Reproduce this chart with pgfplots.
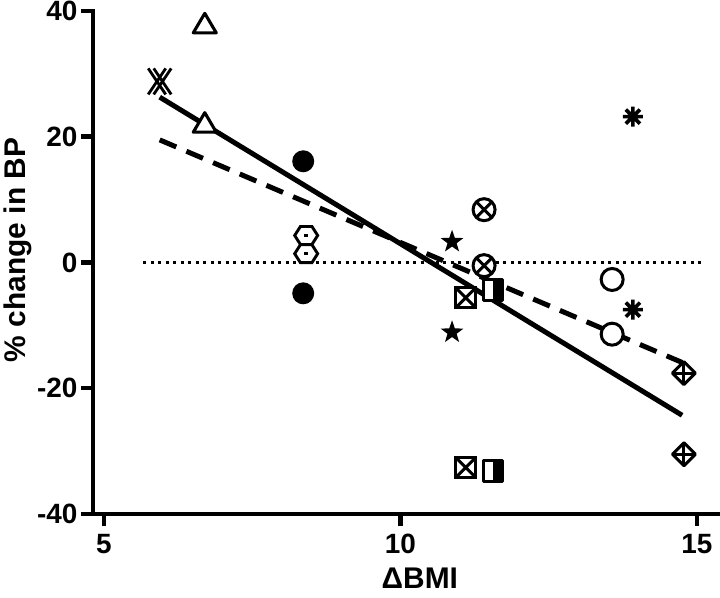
\documentclass[border=0pt]{standalone}
\usepackage{fontspec}
\setmainfont{Liberation Sans}
\usepackage{pgfplots}
\pgfplotsset{compat=1.18}
\usetikzlibrary{plotmarks}

\pgfdeclareplotmark{dblx}{%
 \pgfsetlinewidth{2.8bp}\pgfsetstrokecolor{black}%
 \pgfpathmoveto{\pgfpoint{-11.5bp}{-13bp}}\pgfpathlineto{\pgfpoint{6bp}{13bp}}%
 \pgfpathmoveto{\pgfpoint{-11.5bp}{13bp}}\pgfpathlineto{\pgfpoint{6bp}{-13bp}}%
 \pgfpathmoveto{\pgfpoint{-6bp}{-13bp}}\pgfpathlineto{\pgfpoint{11.5bp}{13bp}}%
 \pgfpathmoveto{\pgfpoint{-6bp}{13bp}}\pgfpathlineto{\pgfpoint{11.5bp}{-13bp}}%
 \pgfusepathqstroke}
\pgfdeclareplotmark{otri}{%
 \pgfsetlinewidth{3.1bp}\pgfsetstrokecolor{black}\pgfsetfillcolor{white}\pgfsetroundjoin
 \pgfpathmoveto{\pgfpoint{0bp}{11.5bp}}\pgfpathlineto{\pgfpoint{-11.5bp}{-8bp}}%
 \pgfpathlineto{\pgfpoint{11.5bp}{-8bp}}\pgfpathclose
 \pgfusepathqfillstroke}
\pgfdeclareplotmark{fcirc}{%
 \pgfsetfillcolor{black}%
 \pgfpathcircle{\pgfpointorigin}{11bp}\pgfusepathqfill}
\pgfdeclareplotmark{hexdot}{%
 \pgfsetlinewidth{2.9bp}\pgfsetstrokecolor{black}\pgfsetfillcolor{white}%
 \pgfpathmoveto{\pgfpoint{11.5bp}{0bp}}\pgfpathlineto{\pgfpoint{5.75bp}{9bp}}%
 \pgfpathlineto{\pgfpoint{-5.75bp}{9bp}}\pgfpathlineto{\pgfpoint{-11.5bp}{0bp}}%
 \pgfpathlineto{\pgfpoint{-5.75bp}{-9bp}}\pgfpathlineto{\pgfpoint{5.75bp}{-9bp}}\pgfpathclose
 \pgfusepathqfillstroke
 \pgfsetfillcolor{black}%
 \pgfpathrectangle{\pgfpoint{-1.8bp}{-1.8bp}}{\pgfpoint{3.6bp}{3.6bp}}\pgfusepathqfill}
\pgfdeclareplotmark{fstar}{%
 \pgfsetfillcolor{black}%
 \pgfpathmoveto{\pgfpointpolar{90}{12bp}}%
 \pgfpathlineto{\pgfpointpolar{126}{4.8bp}}\pgfpathlineto{\pgfpointpolar{162}{12bp}}%
 \pgfpathlineto{\pgfpointpolar{198}{4.8bp}}\pgfpathlineto{\pgfpointpolar{234}{12bp}}%
 \pgfpathlineto{\pgfpointpolar{270}{4.8bp}}\pgfpathlineto{\pgfpointpolar{306}{12bp}}%
 \pgfpathlineto{\pgfpointpolar{342}{4.8bp}}\pgfpathlineto{\pgfpointpolar{18}{12bp}}%
 \pgfpathlineto{\pgfpointpolar{54}{4.8bp}}\pgfpathclose
 \pgfusepathqfill}
\pgfdeclareplotmark{otimesm}{%
 \pgfsetlinewidth{3bp}\pgfsetstrokecolor{black}\pgfsetfillcolor{white}%
 \pgfpathcircle{\pgfpointorigin}{11bp}\pgfusepathqfillstroke
 \pgfpathmoveto{\pgfpoint{-7.6bp}{-7.6bp}}\pgfpathlineto{\pgfpoint{7.6bp}{7.6bp}}%
 \pgfpathmoveto{\pgfpoint{-7.6bp}{7.6bp}}\pgfpathlineto{\pgfpoint{7.6bp}{-7.6bp}}%
 \pgfusepathqstroke}
\pgfdeclareplotmark{boxx}{%
 \pgfsetlinewidth{3bp}\pgfsetstrokecolor{black}\pgfsetfillcolor{white}%
 \pgfpathrectangle{\pgfpoint{-10bp}{-10bp}}{\pgfpoint{20bp}{20bp}}\pgfusepathqfillstroke
 \pgfpathmoveto{\pgfpoint{-10bp}{-10bp}}\pgfpathlineto{\pgfpoint{10bp}{10bp}}%
 \pgfpathmoveto{\pgfpoint{-10bp}{10bp}}\pgfpathlineto{\pgfpoint{10bp}{-10bp}}%
 \pgfusepathqstroke}
\pgfdeclareplotmark{halfsq}{%
 \pgfsetlinewidth{3bp}\pgfsetstrokecolor{black}\pgfsetfillcolor{white}%
 \pgfpathrectangle{\pgfpoint{-9.5bp}{-10.5bp}}{\pgfpoint{19bp}{21bp}}\pgfusepathqfill
 \pgfsetfillcolor{black}%
 \pgfpathrectangle{\pgfpoint{0bp}{-10.5bp}}{\pgfpoint{9.5bp}{21bp}}\pgfusepathqfill
 \pgfsetroundjoin
 \pgfpathrectangle{\pgfpoint{-9.5bp}{-10.5bp}}{\pgfpoint{19bp}{21bp}}\pgfusepathqstroke}
\pgfdeclareplotmark{ocirc}{%
 \pgfsetlinewidth{3bp}\pgfsetstrokecolor{black}\pgfsetfillcolor{white}%
 \pgfpathcircle{\pgfpointorigin}{11bp}\pgfusepathqfillstroke}
\pgfdeclareplotmark{bast}{%
 \pgfsetlinewidth{3.6bp}\pgfsetstrokecolor{black}%
 \pgfpathmoveto{\pgfpointpolar{0}{10bp}}\pgfpathlineto{\pgfpointpolar{180}{10bp}}%
 \pgfpathmoveto{\pgfpointpolar{90}{10bp}}\pgfpathlineto{\pgfpointpolar{270}{10bp}}%
 \pgfpathmoveto{\pgfpointpolar{45}{10bp}}\pgfpathlineto{\pgfpointpolar{225}{10bp}}%
 \pgfpathmoveto{\pgfpointpolar{135}{10bp}}\pgfpathlineto{\pgfpointpolar{315}{10bp}}%
 \pgfusepathqstroke}
\pgfdeclareplotmark{dplus}{%
 \pgfsetlinewidth{3bp}\pgfsetstrokecolor{black}\pgfsetfillcolor{white}\pgfsetroundjoin
 \pgfpathmoveto{\pgfpoint{0bp}{11.5bp}}\pgfpathlineto{\pgfpoint{-11.5bp}{0bp}}%
 \pgfpathlineto{\pgfpoint{0bp}{-11.5bp}}\pgfpathlineto{\pgfpoint{11.5bp}{0bp}}\pgfpathclose
 \pgfusepathqfillstroke
 \pgfpathmoveto{\pgfpoint{0bp}{11.5bp}}\pgfpathlineto{\pgfpoint{0bp}{-11.5bp}}%
 \pgfpathmoveto{\pgfpoint{-11.5bp}{0bp}}\pgfpathlineto{\pgfpoint{11.5bp}{0bp}}%
 \pgfusepathqstroke}

\begin{document}
\begin{tikzpicture}
\useasboundingbox (0,0) rectangle (720bp,598bp);
\begin{axis}[
  at={(93bp,84bp)}, anchor=south west,
  scale only axis, width=625bp, height=503bp,
  xmin=4.815, xmax=15.355, ymin=-40, ymax=40,
  axis lines=left,
  axis line style={line width=4.5bp, -, line cap=rect},
  tick align=outside, tick pos=left,
  major tick length=12bp,
  every tick/.style={line width=4.5bp, black},
  xtick={5,10,15}, xticklabels={5,10,15},
  ytick={-40,-20,0,20,40}, yticklabels={-40,-20,0,20,40},
  ticklabel style={font=\fontsize{28}{28}\selectfont\bfseries},
  xticklabel style={yshift=-5bp},
  xlabel={ΔBMI}, ylabel={\% change in BP},
  every axis x label/.style={at={(axis description cs:0.523,-0.127)}, anchor=center,
     font=\fontsize{30}{30}\selectfont\bfseries},
  every axis y label/.style={at={(axis description cs:-0.12,0.525)}, anchor=center, rotate=90,
     font=\fontsize{30}{30}\selectfont\bfseries},
  clip=false,
]
\addplot[line width=3bp, black, dash pattern=on 3bp off 4.5bp] coordinates {(5.66,0) (15.13,0)};
\addplot[line width=5bp, black] coordinates {(5.94,26.3) (14.75,-24.3)};
\addplot[line width=5bp, black, dash pattern=on 18bp off 11bp] coordinates {(5.94,19.5) (14.75,-15.9)};

\addplot[only marks, mark=dblx] coordinates {(5.94,28.8)};
\addplot[only marks, mark=otri] coordinates {(6.70,37.8) (6.70,22.0)};
\addplot[only marks, mark=fcirc] coordinates {(8.36,16.1) (8.36,-4.9)};
\addplot[only marks, mark=hexdot] coordinates {(8.41,4.3) (8.41,1.4)};
\addplot[only marks, mark=fstar] coordinates {(10.87,3.3) (10.87,-11.1)};
\addplot[only marks, mark=otimesm] coordinates {(11.41,8.4) (11.41,-0.5)};
\addplot[only marks, mark=boxx] coordinates {(11.10,-5.6) (11.10,-32.6)};
\addplot[only marks, mark=halfsq] coordinates {(11.56,-4.3) (11.56,-33.2)};
\addplot[only marks, mark=ocirc] coordinates {(13.57,-2.7) (13.57,-11.4)};
\addplot[only marks, mark=bast] coordinates {(13.92,23.2) (13.92,-7.5)};
\addplot[only marks, mark=dplus] coordinates {(14.78,-17.6) (14.78,-30.5)};
\end{axis}
\end{tikzpicture}
\end{document}
